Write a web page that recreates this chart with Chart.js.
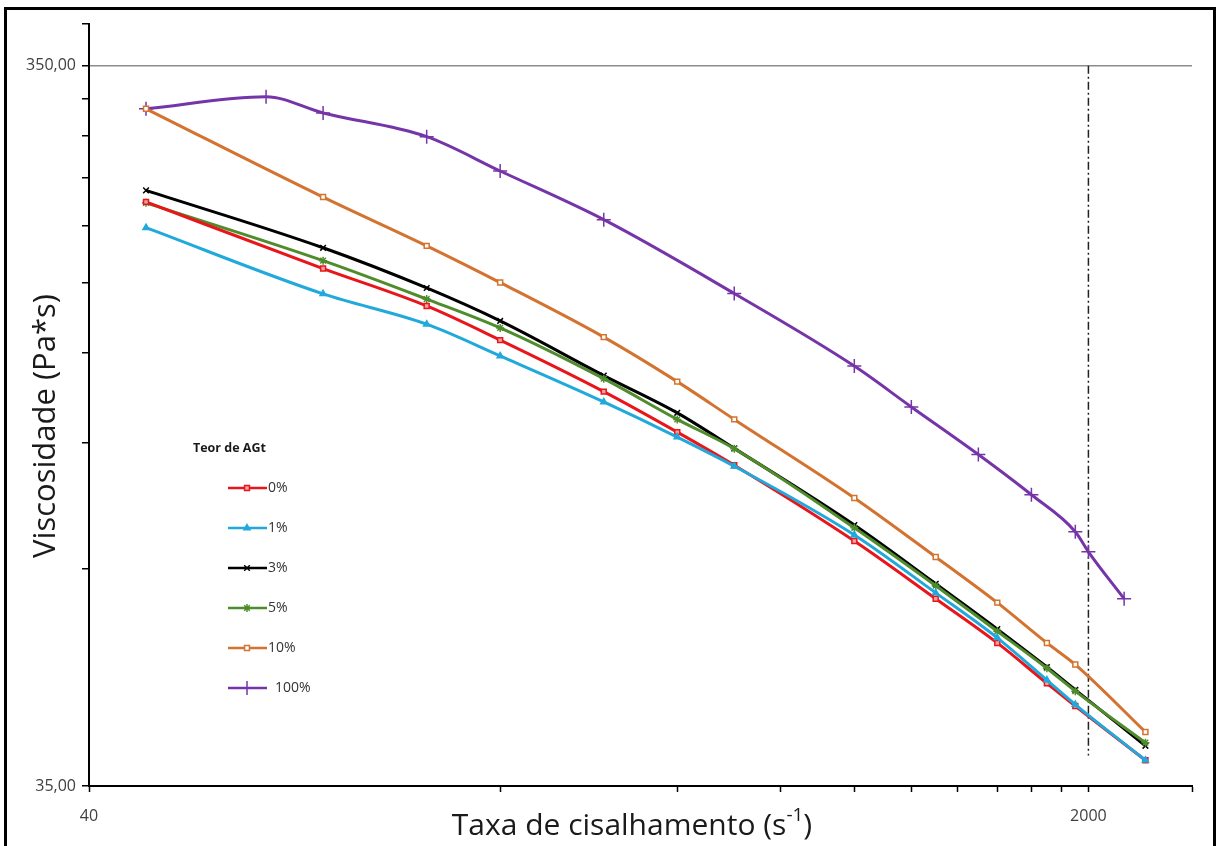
<!DOCTYPE html>
<html>
<head>
<meta charset="utf-8">
<script src="https://cdn.jsdelivr.net/npm/chart.js@4.4.0/dist/chart.umd.min.js"></script>
<style>
  body { margin: 0; background: #fff; overflow: hidden; }
  #wrap { position: relative; width: 1219px; height: 846px; }
  #frame { position: absolute; left: 4px; top: 7px; width: 1212px; height: 860px; border: 3px solid #000; border-bottom: none; box-sizing: border-box; pointer-events: none; }
</style>
</head>
<body>
<div id="wrap">
  <canvas id="my_chart" width="1219" height="846"></canvas>
  <div id="frame"></div>
</div>
<script>
// shear rates (s-1)
const shearRate = [50, 100, 150, 200, 300, 400, 500, 800, 1100, 1400, 1700, 1900, 2500]
const shearRate100 = [50, 80, 100, 150, 200, 300, 500, 800, 1000, 1300, 1600, 1900, 2000, 2300]

// viscosity (Pa*s) for each AGt content
const visc0 = [226.5, 183, 162.4, 145.6, 123.5, 108.5, 97.6, 76.6, 63.7, 55.3, 48.6, 45.2, 38.0]
const visc1 = [208.6, 168.8, 153.2, 138.4, 119.5, 106.8, 97.3, 78.1, 64.9, 56.2, 49.1, 45.4, 38.0]
const visc3 = [235, 195.6, 172, 154.8, 130, 115.4, 103, 80.6, 66.8, 57.8, 51.2, 47.6, 39.8]
const visc5 = [225.8, 187.7, 166, 151.4, 128.7, 113, 102.9, 79.9, 66.4, 57.4, 51.0, 47.4, 40.2]
const visc10 = [305, 230, 196.8, 175, 147, 127.5, 113, 87.9, 72.8, 62.9, 55.3, 51.6, 41.6]
const visc100 = [305, 317, 301, 279, 250, 214, 169, 134, 117.6, 101, 88.8, 78.9, 74, 63.7]

const seriesLabels = ["0%", "1%", "3%", "5%", "10%", "100%"]

const xTickValues = [40, 200, 400, 600, 800, 1000, 1200, 1400, 1600, 1800, 2000, 3000]
const xTickLabels = { 40: "40", 2000: "2000" }
const yTickValues = [35, 70, 105, 140, 175, 210, 245, 280, 315, 350, 400]
const yTickLabels = { 35: "35,00", 350: "350,00" }

// dash-dot marker line at 2000 s-1
const refLineX = [2000, 2000]
const refLineY = [350, 38.6]

const FONT = "'Open Sans', 'DejaVu Sans', sans-serif"

function toPoints(xs, ys) {
  return xs.map((x, i) => ({ x: x, y: ys[i] }))
}

function series(label, xs, ys, color, style, radius, fill, order) {
  return {
    label: label,
    data: toPoints(xs, ys),
    borderColor: color,
    backgroundColor: fill,
    borderWidth: 3,
    pointStyle: style,
    pointRadius: radius,
    pointBorderColor: color,
    pointBackgroundColor: fill,
    pointBorderWidth: 1.5,
    cubicInterpolationMode: 'monotone',
    order: order
  }
}

const datasets = [
  series(seriesLabels[0], shearRate, visc0, '#E8161B', 'rect', 3.5, '#F2A0A0', 2),
  series(seriesLabels[1], shearRate, visc1, '#21A9DC', 'triangle', 3.5, '#21A9DC', 1),
  series(seriesLabels[2], shearRate, visc3, '#000000', 'crossRot', 4, '#000000', 4),
  series(seriesLabels[3], shearRate, visc5, '#4F8C2C', 'star', 4, '#4F8C2C', 3),
  series(seriesLabels[4], shearRate, visc10, '#D3732F', 'rect', 3.5, '#ffffff', 5),
  series(seriesLabels[5], shearRate100, visc100, '#7535A8', 'cross', 7, '#7535A8', 6),
  {
    label: 'ref',
    data: toPoints(refLineX, refLineY),
    borderColor: '#222',
    borderWidth: 1.5,
    borderDash: [8, 3, 2, 3],
    pointRadius: 0,
    tension: 0,
    order: 7
  }
]

// legend + axis titles drawn by hand where the original has them
const decorations = {
  id: 'decorations',
  afterDraw(chart) {
    const ctx = chart.ctx
    ctx.save()
    ctx.fillStyle = '#1a1a1a'
    ctx.textBaseline = 'middle'

    // y title
    ctx.save()
    ctx.translate(46, 426)
    ctx.rotate(-Math.PI / 2)
    ctx.font = "31px " + FONT
    ctx.textAlign = 'center'
    ctx.fillText("Viscosidade (Pa*s)", 0, 0)
    ctx.restore()

    // x title with superscript
    const main = "Taxa de cisalhamento (s"
    const sup = "-1"
    const close = ")"
    ctx.font = "30px " + FONT
    const wMain = ctx.measureText(main).width
    const wClose = ctx.measureText(close).width
    ctx.font = "19px " + FONT
    const wSup = ctx.measureText(sup).width
    let x = 632 - (wMain + wSup + wClose) / 2
    ctx.textAlign = 'left'
    ctx.font = "30px " + FONT
    ctx.fillText(main, x, 826)
    x += wMain
    ctx.font = "19px " + FONT
    ctx.fillText(sup, x, 816)
    x += wSup
    ctx.font = "30px " + FONT
    ctx.fillText(close, x, 826)

    // legend
    ctx.font = "bold 12.5px " + FONT
    ctx.fillText("Teor de AGt", 193, 448)
    ctx.font = "14px " + FONT
    ctx.fillStyle = '#333'
    for (let i = 0; i < seriesLabels.length; i++) {
      const ds = chart.data.datasets[i]
      const y = 488 + 40 * i
      ctx.strokeStyle = ds.borderColor
      ctx.lineWidth = 2.5
      ctx.beginPath()
      ctx.moveTo(228, y)
      ctx.lineTo(267, y)
      ctx.stroke()
      ctx.fillStyle = ds.pointBackgroundColor
      ctx.lineWidth = 1.5
      Chart.helpers.drawPoint(ctx, { pointStyle: ds.pointStyle, radius: ds.pointRadius, borderWidth: 1.5, rotation: 0 }, 247, y)
      ctx.fillStyle = '#333'
      ctx.fillText(ds.label, i === 5 ? 275 : 268, y)
    }
    ctx.restore()
  }
}

new Chart(document.querySelector('#my_chart'), {
  type: 'line',
  data: { datasets: datasets },
  options: {
    responsive: false,
    animation: false,
    devicePixelRatio: 1,
    layout: { padding: { top: 24, right: 27, left: 0, bottom: 0 }, autoPadding: false },
    plugins: { legend: { display: false }, tooltip: { enabled: false } },
    scales: {
      x: {
        type: 'logarithmic',
        min: 40,
        max: 3000,
        afterBuildTicks: s => { s.ticks = xTickValues.map(v => ({ value: v })) },
        afterFit: s => { s.height = 60 },
        ticks: {
          callback: v => xTickLabels[v] || "",
          autoSkip: false,
          maxRotation: 0,
          padding: 15,
          color: '#404040',
          font: { family: FONT, size: 16 }
        },
        grid: { drawOnChartArea: false, color: '#000', tickLength: 6, tickWidth: 1.5 },
        border: { color: '#000', width: 2 }
      },
      y: {
        type: 'logarithmic',
        min: 35,
        max: 400,
        afterBuildTicks: s => { s.ticks = yTickValues.map(v => ({ value: v })) },
        afterFit: s => { s.width = 89 },
        ticks: {
          callback: v => yTickLabels[v] || "",
          autoSkip: false,
          padding: 6,
          color: '#404040',
          font: { family: FONT, size: 16 }
        },
        grid: {
          color: c => (c.tick && c.tick.value === 350) ? '#8c8c8c' : 'transparent',
          lineWidth: 1.5,
          tickColor: '#000',
          tickLength: 7,
          tickWidth: 1.5
        },
        border: { color: '#000', width: 2 }
      }
    }
  },
  plugins: [decorations]
})
</script>
</body>
</html>
